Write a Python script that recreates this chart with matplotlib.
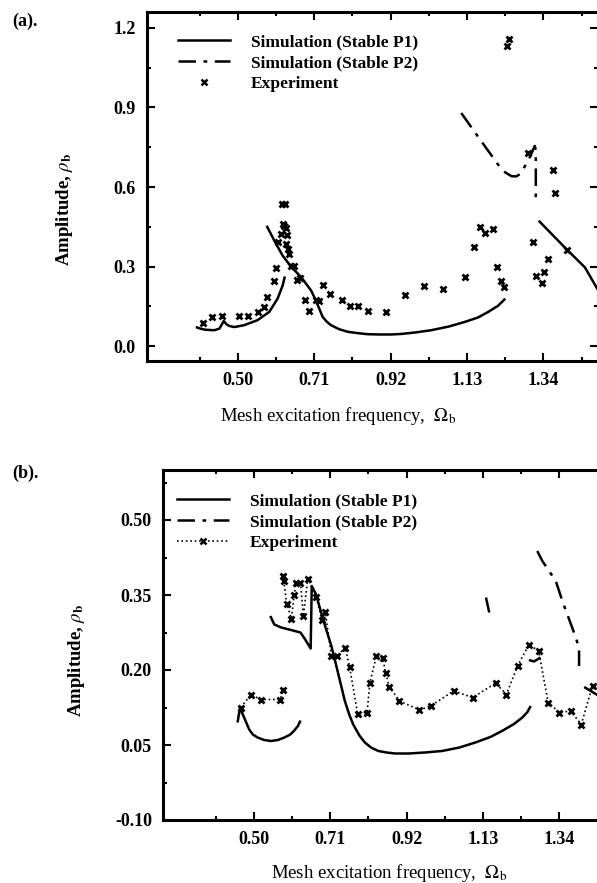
import matplotlib
matplotlib.use('Agg')
import matplotlib.pyplot as plt
from matplotlib.lines import Line2D
import numpy as np

plt.rcParams['font.family'] = ['Liberation Serif', 'DejaVu Serif']
plt.rcParams['mathtext.fontset'] = 'stix'

# ---- panel (a) data ----
exp_a_x = [0.404, 0.430, 0.455, 0.502, 0.529, 0.554, 0.572, 0.580, 0.598, 0.605,
           0.611, 0.618, 0.621, 0.629, 0.623, 0.626, 0.632, 0.634, 0.633, 0.637,
           0.641, 0.646, 0.655, 0.662, 0.672, 0.685, 0.696, 0.715, 0.724, 0.735,
           0.753, 0.786, 0.807, 0.831, 0.859, 0.908, 0.958, 1.011, 1.064, 1.123,
           1.148, 1.166, 1.178, 1.201, 1.212, 1.222, 1.232, 1.241, 1.246, 1.298,
           1.312, 1.319, 1.335, 1.341, 1.353, 1.367, 1.371, 1.404]
exp_a_y = [0.089, 0.110, 0.114, 0.113, 0.113, 0.129, 0.147, 0.185, 0.245, 0.295,
           0.394, 0.423, 0.537, 0.537, 0.462, 0.454, 0.447, 0.420, 0.385, 0.366,
           0.348, 0.304, 0.301, 0.248, 0.258, 0.175, 0.133, 0.173, 0.170, 0.229,
           0.198, 0.173, 0.153, 0.153, 0.133, 0.129, 0.191, 0.226, 0.216, 0.259,
           0.372, 0.450, 0.426, 0.441, 0.300, 0.245, 0.223, 1.133, 1.160, 0.729,
           0.391, 0.264, 0.237, 0.279, 0.329, 0.664, 0.579, 0.364]

p1_a = [
    ([0.384, 0.397, 0.410, 0.435, 0.449, 0.455, 0.461, 0.468, 0.476, 0.490, 0.517,
      0.554, 0.586, 0.609, 0.623, 0.629],
     [0.072, 0.066, 0.062, 0.060, 0.066, 0.080, 0.095, 0.083, 0.076, 0.072, 0.079,
      0.098, 0.129, 0.179, 0.229, 0.263]),
    ([0.579, 0.600, 0.623, 0.646, 0.674, 0.701, 0.710, 0.718, 0.733, 0.745, 0.756,
      0.778, 0.802, 0.830, 0.857, 0.890, 0.921, 0.949, 0.990, 1.031, 1.080, 1.123,
      1.160, 1.188, 1.215, 1.235],
     [0.454, 0.398, 0.341, 0.300, 0.260, 0.210, 0.185, 0.160, 0.110, 0.091, 0.079,
      0.064, 0.054, 0.049, 0.045, 0.044, 0.044, 0.046, 0.052, 0.060, 0.074, 0.091,
      0.108, 0.129, 0.152, 0.179]),
    ([1.327, 1.403, 1.454, 1.495],
     [0.473, 0.366, 0.297, 0.200]),
]
p2_a = [
    ([1.114, 1.169, 1.215, 1.235, 1.252, 1.265, 1.275, 1.298, 1.316, 1.319, 1.319],
     [0.879, 0.773, 0.685, 0.655, 0.641, 0.640, 0.648, 0.698, 0.755, 0.740, 0.560]),
]

# ---- panel (b) data ----
exp_b_x = [0.464, 0.492, 0.519, 0.572, 0.581,
           0.579, 0.582, 0.590, 0.603, 0.611, 0.616, 0.628, 0.636, 0.648, 0.671,
           0.687, 0.696, 0.713, 0.729, 0.751, 0.763, 0.785, 0.811, 0.819, 0.837,
           0.854, 0.862, 0.872, 0.900, 0.955, 0.986, 1.049, 1.102, 1.165, 1.194,
           1.225, 1.256, 1.283, 1.309, 1.340, 1.371, 1.400, 1.431]
exp_b_y = [0.125, 0.151, 0.141, 0.141, 0.160,
           0.388, 0.378, 0.333, 0.303, 0.350, 0.375, 0.375, 0.308, 0.383, 0.347,
           0.300, 0.317, 0.228, 0.228, 0.245, 0.206, 0.113, 0.115, 0.175, 0.229,
           0.225, 0.195, 0.167, 0.138, 0.120, 0.128, 0.158, 0.145, 0.174, 0.151,
           0.208, 0.251, 0.238, 0.135, 0.115, 0.118, 0.091, 0.169]
exp_b_split = 5   # low-frequency run is a separate sweep

p1_b = [
    ([0.455, 0.462, 0.467, 0.473, 0.487, 0.497, 0.510, 0.528, 0.547, 0.566, 0.584,
      0.600, 0.611, 0.621, 0.628],
     [0.095, 0.126, 0.115, 0.105, 0.081, 0.071, 0.065, 0.060, 0.058, 0.060, 0.065,
      0.071, 0.079, 0.088, 0.099]),
    ([0.545, 0.556, 0.575, 0.602, 0.628, 0.641, 0.656, 0.659, 0.671, 0.690, 0.713, 0.731,
      0.750, 0.762, 0.773, 0.790, 0.805, 0.822, 0.842, 0.865, 0.888, 0.925, 0.970,
      1.017, 1.065, 1.109, 1.150, 1.182, 1.215, 1.238, 1.252, 1.261],
     [0.308, 0.291, 0.285, 0.280, 0.275, 0.261, 0.243, 0.368, 0.351, 0.301, 0.248, 0.195,
      0.138, 0.111, 0.091, 0.069, 0.055, 0.045, 0.038, 0.035, 0.033, 0.033, 0.035,
      0.038, 0.045, 0.055, 0.066, 0.078, 0.092, 0.105, 0.116, 0.128]),
    ([1.256, 1.270, 1.288], [0.220, 0.217, 0.225]),
    ([1.408, 1.449], [0.166, 0.148]),
]
p2_b = [
    ([1.138, 1.147], [0.345, 0.315]),
    ([1.279, 1.293, 1.330, 1.348, 1.380, 1.394, 1.394],
     [0.438, 0.418, 0.378, 0.338, 0.275, 0.245, 0.208]),
]

x_major = [0.50, 0.71, 0.92, 1.13, 1.34]
x_minor = [0.395, 0.605, 0.815, 1.025, 1.235, 1.445]

DASHDOT = (0, (7, 3, 1.5, 3))
LW = 1.8
MS = 5
MEW = 2.0


def style_axes(ax, ylim, yticks, yminor, yfmt):
    ax.set_xlim(0.25, 1.49)
    ax.set_ylim(*ylim)
    ax.set_xticks(x_major)
    ax.set_xticks(x_minor, minor=True)
    ax.set_xticklabels(['%.2f' % v for v in x_major])
    ax.set_yticks(yticks)
    ax.set_yticks(yminor, minor=True)
    ax.set_yticklabels([yfmt % v for v in yticks])
    ax.tick_params(which='both', direction='in', top=True, right=True, width=1.5)
    ax.tick_params(which='major', length=6, pad=8, labelsize=13)
    ax.tick_params(which='minor', length=3)
    for lab in ax.get_xticklabels() + ax.get_yticklabels():
        lab.set_fontweight('bold')
    for s in ax.spines.values():
        s.set_linewidth(2.2)


def draw_sim(ax, segs, ls):
    for xs, ys in segs:
        ax.plot(xs, ys, color='black', lw=LW, linestyle=ls, solid_capstyle='butt')


def add_legend(ax, fig, handles, x0, y0):
    labels = ['Simulation (Stable P1)', 'Simulation (Stable P2)', 'Experiment']
    ax.legend(handles, labels, loc='upper left', bbox_to_anchor=(x0 / 597, 1 - y0 / 883),
              bbox_transform=fig.transFigure, frameon=False, borderpad=0, borderaxespad=0,
              handlelength=3.0, handletextpad=1.2, labelspacing=0.28,
              prop={'size': 12.5, 'weight': 'bold', 'family': 'Liberation Serif'})


def main():
    fig = plt.figure(figsize=(5.97, 8.83), dpi=100)

    # ---- (a) ----
    ax1 = fig.add_axes([147 / 597, 1 - 361 / 883, 451 / 597, 349 / 883])
    draw_sim(ax1, p1_a, '-')
    draw_sim(ax1, p2_a, DASHDOT)
    ax1.plot(exp_a_x, exp_a_y, linestyle='none', marker='x', color='black',
             markersize=MS, markeredgewidth=MEW)
    style_axes(ax1, (-0.056, 1.26), [0.0, 0.3, 0.6, 0.9, 1.2],
               [0.15, 0.45, 0.75, 1.05], '%.1f')
    h_a = [Line2D([], [], color='black', lw=LW),
           Line2D([], [], color='black', lw=LW, linestyle=DASHDOT),
           Line2D([], [], color='black', linestyle='none', marker='x',
                  markersize=4, markeredgewidth=1.8)]
    add_legend(ax1, fig, h_a, 178, 34)
    ax1.set_xlabel(r'Mesh excitation frequency,  $\Omega_\mathrm{b}$', fontsize=13.5)
    ax1.xaxis.set_label_coords(0.4235, -0.126)
    ax1.set_ylabel(r'Amplitude, $\rho_\mathbf{b}$', fontsize=13.5, fontweight='bold')
    ax1.yaxis.set_label_coords(-0.16, 0.433)
    fig.text(12 / 597, 1 - 21 / 883, '(a).', fontsize=13, fontweight='bold', va='center')

    # ---- (b) ----
    ax2 = fig.add_axes([163 / 597, 1 - 820 / 883, 451 / 597, 350 / 883])
    draw_sim(ax2, p1_b, '-')
    draw_sim(ax2, p2_b, DASHDOT)
    ax2.plot(exp_b_x[:exp_b_split], exp_b_y[:exp_b_split], linestyle=':', lw=1.2,
             marker='x', color='black', markersize=MS, markeredgewidth=MEW)
    ax2.plot(exp_b_x[exp_b_split:], exp_b_y[exp_b_split:], linestyle=':', lw=1.2,
             marker='x', color='black', markersize=MS, markeredgewidth=MEW)
    style_axes(ax2, (-0.10, 0.60), [-0.10, 0.05, 0.20, 0.35, 0.50],
               [-0.025, 0.125, 0.275, 0.425, 0.575], '%.2f')
    h_b = [Line2D([], [], color='black', lw=LW),
           Line2D([], [], color='black', lw=LW, linestyle=DASHDOT),
           Line2D([], [], color='black', linestyle=':', lw=1.2, marker='x',
                  markersize=4, markeredgewidth=1.8)]
    add_legend(ax2, fig, h_b, 177, 493)
    ax2.set_xlabel(r'Mesh excitation frequency,  $\Omega_\mathrm{b}$', fontsize=13.5)
    ax2.xaxis.set_label_coords(0.501, -0.12)
    ax2.set_ylabel(r'Amplitude, $\rho_\mathbf{b}$', fontsize=13.5, fontweight='bold')
    ax2.yaxis.set_label_coords(-0.168, 0.457)
    fig.text(12 / 597, 1 - 473 / 883, '(b).', fontsize=13, fontweight='bold', va='center')

    fig.savefig('out.png', dpi=100)


if __name__ == '__main__':
    main()
